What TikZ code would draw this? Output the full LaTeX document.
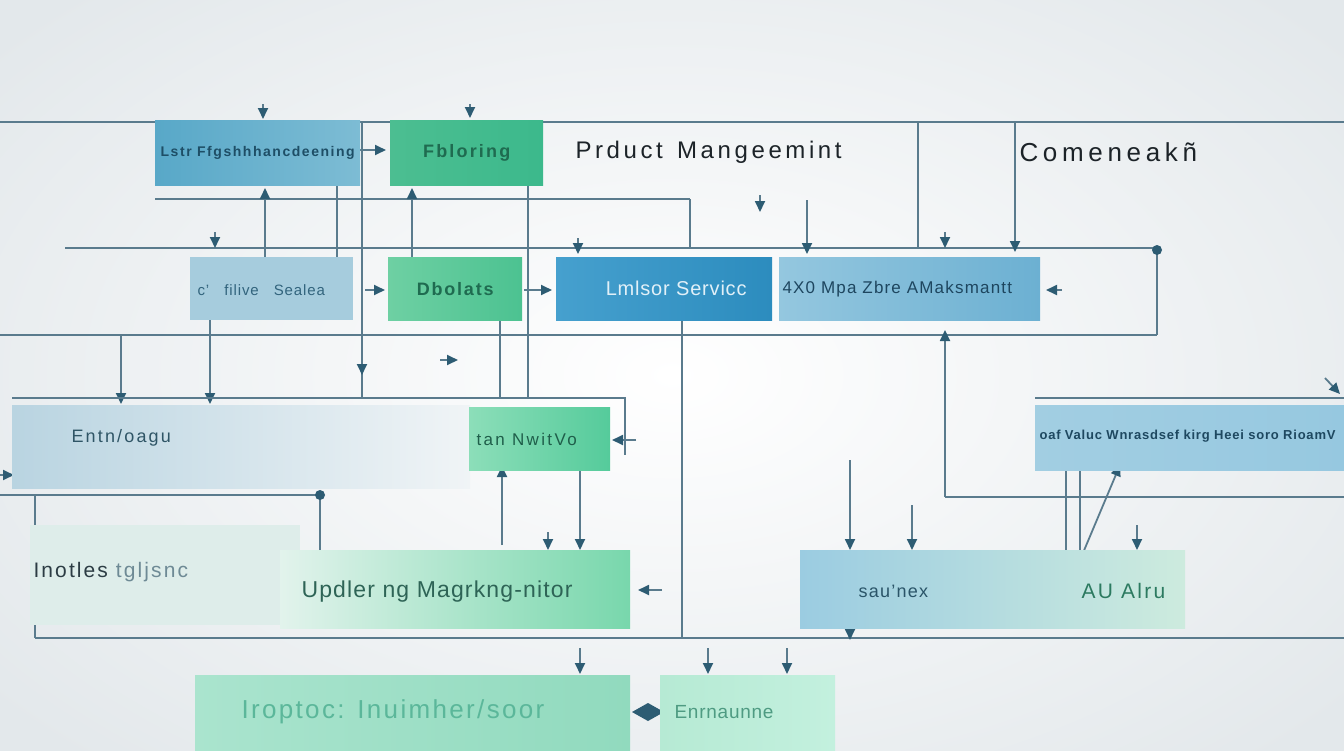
\documentclass[tikz,border=0pt]{standalone}
\usepackage{fontspec}
\setmainfont{Liberation Sans}
\usetikzlibrary{arrows.meta}
\definecolor{bgc}{HTML}{E3E8EB}
\definecolor{lnc}{HTML}{5A7B8D}
\definecolor{arrc}{HTML}{2D5C73}
\definecolor{darkt}{HTML}{1C2328}
\newcommand\lsp[1]{\addfontfeature{LetterSpace=#1}}
\begin{document}
\begin{tikzpicture}[x=1pt,y=-1pt,
  ln/.style={draw=lnc,line width=1.8pt},
  ar/.style={ln,-{Triangle[length=11pt,width=10pt,color=arrc]}},
  box/.style={rectangle,inner sep=0pt,anchor=north west},
  dot/.style={fill=arrc}]
\useasboundingbox (0,0) rectangle (1344,750);
\fill[bgc] (0,0) rectangle (1344,750);
\shade[inner color=white,outer color=bgc] (-200,-150) rectangle (1544,900);

% ---------- grid lines ----------
\draw[ln] (0,122) -- (1344,122);
\draw[ln] (155,199) -- (690,199);
\draw[ln] (65,248) -- (1157,248);
\draw[ln] (1157,248) -- (1157,335);
\draw[ln] (0,335) -- (1157,335);
\draw[ln] (918,122) -- (918,248);
\draw[ln] (690,199) -- (690,248);
\draw[ar] (1015,122) -- (1015,252);
\draw[ar] (807,200) -- (807,254);
\draw[ar] (265,258) -- (265,188);
\draw[ln] (337,185) -- (337,258);
\draw[ar] (412,258) -- (412,188);
\draw[ln] (362,122) -- (362,398);
\draw[ln] (528,185) -- (528,398);
\draw[ln] (500,320) -- (500,398);
\draw[ln] (682,320) -- (682,638);
\draw[ar] (121,335) -- (121,404);
\draw[ar] (210,320) -- (210,404);
\draw[ar] (945,497) -- (945,330);
\draw[ln] (12,398) -- (625,398) -- (625,455);
\draw[ln] (0,495) -- (320,495);
\draw[ln] (35,495) -- (35,638);
\draw[ln] (320,495) -- (320,550);
\draw[ln] (35,638) -- (1344,638);
\draw[ar] (502,545) -- (502,466);
\draw[ar] (580,470) -- (580,550);
\draw[ln] (1035,398) -- (1344,398);
\draw[ln] (945,497) -- (1344,497);
\draw[ar] (850,460) -- (850,550);
\draw[ar] (912,505) -- (912,550);
\draw[ar] (1066,550) -- (1066,458);
\draw[ln] (1080,470) -- (1080,550);
\fill[dot] (1157,250) circle (5pt);
\fill[dot] (320,495) circle (5pt);

% ---------- loose arrowheads ----------
\draw[ar] (263,104) -- (263,119);
\draw[ar] (470,104) -- (470,118);
\draw[ar] (360,150) -- (386,150);
\draw[ar] (215,232) -- (215,248);
\draw[ar] (578,238) -- (578,254);
\draw[ar] (945,232) -- (945,248);
\draw[ar] (760,195) -- (760,212);
\draw[ar] (362,355) -- (362,375);
\draw[ar] (440,360) -- (458,360);
\draw[ar] (365,290) -- (385,290);
\draw[ar] (524,290) -- (552,290);
\draw[ar] (1062,290) -- (1046,290);
\draw[ar] (1080,560) -- (1120,465);
\draw[ar] (1137,525) -- (1137,550);
\draw[ar] (548,532) -- (548,550);
\draw[ar] (636,440) -- (612,440);
\draw[ar] (662,590) -- (638,590);
\draw[ar] (1325,378) -- (1340,394);
\draw[ar] (0,475) -- (14,475);
\draw[ar] (850,618) -- (850,640);
\draw[ar] (580,648) -- (580,674);
\draw[ar] (708,648) -- (708,674);
\draw[ar] (787,648) -- (787,674);
\fill[arrc] (632,712) -- (648,703) -- (664,712) -- (648,721) -- cycle;

% ---------- row 1 ----------
\node[box,left color={rgb,255:red,88;green,168;blue,200},right color={rgb,255:red,125;green,188;blue,212},
      minimum width=205pt,minimum height=65pt] (b1) at (155,120) {};
\node[font=\bfseries\fontsize{14}{16}\selectfont\lsp{11},text={rgb,255:red,30;green,78;blue,102}] (t1) at (b1.center) {Lstr Ffgshhhancdeening};
\node[box,left color={rgb,255:red,76;green,190;blue,145},right color={rgb,255:red,60;green,185;blue,140},
      minimum width=153pt,minimum height=65pt] (b2) at (390,120) {};
\node[font=\bfseries\fontsize{18}{20}\selectfont\lsp{12},text={rgb,255:red,31;green,107;blue,80}] (t2) at (b2.center) {Fbloring};
\node[font=\fontsize{24}{28}\selectfont\lsp{15},text=darkt,anchor=west] (t3) at (572,152) {Prduct\, Mangeemint};
\node[font=\fontsize{26}{28}\selectfont\lsp{18},text=darkt,anchor=west] (t4) at (1016,152) {Comeneakñ};

% ---------- row 2 ----------
\node[box,fill={rgb,255:red,166;green,204;blue,221},minimum width=163pt,minimum height=63pt] (b5) at (190,257) {};
\node[font=\fontsize{15}{17}\selectfont\lsp{6},text={rgb,255:red,50;green,100;blue,125},anchor=west] (t5) at (194,290) {c'\quad filive\quad Sealea};
\node[box,left color={rgb,255:red,110;green,208;blue,163},right color={rgb,255:red,76;green,194;blue,145},
      minimum width=134pt,minimum height=63pt] (b6) at (388,257) {};
\node[font=\bfseries\fontsize{18}{20}\selectfont\lsp{10},text={rgb,255:red,31;green,107;blue,80}] (t6) at (b6.center) {Dbolats};
\node[box,left color={rgb,255:red,70;green,160;blue,206},right color={rgb,255:red,44;green,140;blue,190},
      minimum width=216pt,minimum height=63pt] (b7) at (556,257) {};
\node[font=\fontsize{20}{22}\selectfont\lsp{4},text={rgb,255:red,225;green,240;blue,248}] (t7) at ([xshift=12pt]b7.center) {Lmlsor Servicc};
\node[box,left color={rgb,255:red,148;green,199;blue,223},right color={rgb,255:red,108;green,176;blue,210},
      minimum width=261pt,minimum height=63pt] (b8) at (779,257) {};
\node[font=\fontsize{17}{19}\selectfont\lsp{7},text={rgb,255:red,30;green,70;blue,95},anchor=west] (t8) at (779,289) {4X0 Mpa Zbre AMaksmantt};

% ---------- row 3 ----------
\node[box,left color={rgb,255:red,185;green,212;blue,225},right color={rgb,255:red,240;green,244;blue,246},
      minimum width=458pt,minimum height=83pt] (b9) at (12,405) {};
\node[font=\fontsize{18}{20}\selectfont\lsp{12},text={rgb,255:red,47;green,85;blue,102},anchor=west] (t9) at (68,438) {Entn/oagu};
\node[box,left color={rgb,255:red,140;green,222;blue,185},right color={rgb,255:red,85;green,203;blue,155},
      minimum width=141pt,minimum height=63pt] (b10) at (469,407) {};
\node[font=\fontsize{17}{19}\selectfont\lsp{14},text={rgb,255:red,31;green,94;blue,74},anchor=west] (t10) at (473,439) {tan NwitVo};
\node[box,left color={rgb,255:red,162;green,206;blue,226},right color={rgb,255:red,150;green,200;blue,224},
      minimum width=309pt,minimum height=65pt] (b11) at (1035,405) {};
\node[font=\bfseries\fontsize{13}{15}\selectfont\lsp{6},text={rgb,255:red,30;green,72;blue,96},anchor=west] (t11) at (1036,436) {oaf Valuc Wnrasdsef kirg Heei soro RioamV};

% ---------- row 4 ----------
\node[box,fill={rgb,255:red,222;green,237;blue,234},minimum width=270pt,minimum height=100pt] (b12) at (30,525) {};
\node[font=\fontsize{21}{23}\selectfont\lsp{10},text={rgb,255:red,44;green,60;blue,68},anchor=west] (t12) at (30,572) {Inotles \textcolor[HTML]{6E8A95}{tgljsnc}};
\node[box,left color={rgb,255:red,226;green,243;blue,236},right color={rgb,255:red,120;green,215;blue,172},
      minimum width=350pt,minimum height=78pt] (b13) at (280,550) {};
\node[font=\fontsize{23}{25}\selectfont\lsp{5},text={rgb,255:red,46;green,100;blue,86},anchor=west] (t13) at (298,592) {Updler ng Magrkng-nitor};
\node[box,left color={rgb,255:red,155;green,204;blue,225},right color={rgb,255:red,205;green,235;blue,222},
      minimum width=385pt,minimum height=78pt] (b14) at (800,550) {};
\node[font=\fontsize{18}{20}\selectfont\lsp{7},text={rgb,255:red,42;green,84;blue,104},anchor=west] (t14) at (855,591) {sau'nex};
\node[font=\fontsize{21}{23}\selectfont\lsp{11},text={rgb,255:red,44;green,122;blue,96},anchor=west] (t15) at (1078,591) {AU Alru};

% ---------- row 5 ----------
\node[box,left color={rgb,255:red,170;green,228;blue,206},right color={rgb,255:red,145;green,218;blue,190},
      minimum width=435pt,minimum height=75pt] (b16) at (195,675) {};
\node[font=\fontsize{26}{28}\selectfont\lsp{9},text={rgb,255:red,91;green,183;blue,154},anchor=west] (t16) at (238,712) {Iroptoc: Inuimher/soor};
\node[box,left color={rgb,255:red,182;green,234;blue,212},right color={rgb,255:red,195;green,240;blue,222},
      minimum width=175pt,minimum height=75pt] (b17) at (660,675) {};
\node[font=\fontsize{19}{21}\selectfont\lsp{4},text={rgb,255:red,78;green,155;blue,130},anchor=west] (t17) at (671,712) {Enrnaunne};
\end{tikzpicture}
\end{document}
